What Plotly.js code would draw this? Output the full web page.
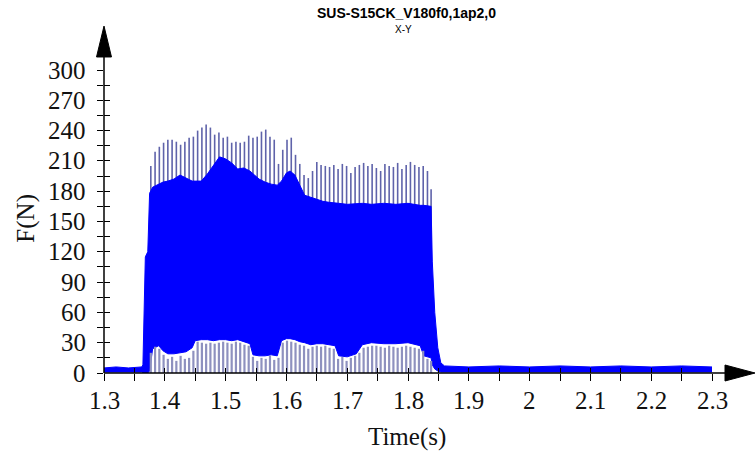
<!DOCTYPE html>
<html><head><meta charset="utf-8">
<script src="https://cdn.plot.ly/plotly-3.0.1.min.js"></script>
<style>html,body{margin:0;padding:0;background:#fff}#chart{width:755px;height:454px}</style>
</head><body><div id="chart"></div>
<script>
// Envelope of the dense force signal (time in s, force in N)
const envT     = [1.300,1.320,1.340,1.362,1.364,1.366,1.368,1.372,1.375,1.380,1.390,1.397,1.405,1.415,1.425,1.435,1.445,1.450,1.460,1.470,1.480,1.490,1.500,1.510,1.520,1.530,1.540,1.545,1.555,1.565,1.575,1.585,1.592,1.600,1.606,1.614,1.622,1.630,1.640,1.650,1.660,1.670,1.680,1.686,1.700,1.715,1.725,1.740,1.760,1.780,1.800,1.820,1.826,1.838,1.840,1.844,1.849,1.854,1.860,1.900,1.950,2.000,2.050,2.100,2.150,2.200,2.250,2.300];
const envUpper = [5,6,5,6,8,60,115,120,178,184,187,189,190,192,196,193,190,190,190,197,205,214,212,208,202,203,200,197,192,189,187,186,190,198,200,196,186,176,174,172,170,169,168,168,167,168,168,167,168,167,168,166,166,165,110,60,25,10,7,6,7,6,7,6,7,6,7,6];
const envLower = [1,1,1,1,0,0,0,0,2,24,27,22,19,19,20,21,25,32,33,33,32,33,33,32,33,31,29,18,17,17,18,17,32,34,34,33,31,30,28,29,29,28,27,17,16,19,28,30,29,29,30,27,17,15,8,4,2,1,1,1,1,1,1,1,1,1,1,1];

// Periodic peaks above the body and troughs below it
const spikeT = [1.377,1.384,1.391,1.398,1.405,1.412,1.419,1.426,1.433,1.440,
                1.447,1.454,1.461,1.468,1.475,1.482,1.489,1.496,1.503,1.510,
                1.517,1.524,1.531,1.538,1.545,1.552,1.559,1.566,1.573,1.580,
                1.587,1.594,1.601,1.608,1.615,1.622,1.629,1.636,1.643,1.650,
                1.657,1.664,1.671,1.678,1.685,1.692,1.699,1.706,1.713,1.720,
                1.727,1.734,1.741,1.748,1.755,1.762,1.769,1.776,1.783,1.790,
                1.797,1.804,1.811,1.818,1.825,1.832,1.838];
const spikeTop = [205,219,224,228,231,231,229,226,229,233,
                  234,240,243,246,243,236,238,233,234,228,
                  229,228,229,235,233,234,239,241,234,231,
                  207,221,231,233,216,207,196,193,200,209,
                  206,205,204,206,202,207,205,198,204,206,
                  208,205,207,203,200,207,205,204,208,202,
                  206,209,206,204,205,200,182];
const troughTop = [20,26,24,18,14,16,12,17,14,15,
                   22,31,30,29,30,29,30,31,30,29,
                   31,30,28,27,16,12,15,14,17,13,
                   15,30,32,31,30,28,27,24,26,27,
                   26,27,25,24,14,16,12,15,17,20,
                   25,26,27,27,26,25,27,26,25,26,
                   27,26,25,24,22,14,12];

const xTickVals = [1.3,1.4,1.5,1.6,1.7,1.8,1.9,2.0,2.1,2.2,2.3];
const xTickText = ['1.3','1.4','1.5','1.6','1.7','1.8','1.9','2','2.1','2.2','2.3'];
const yTickVals = [0,30,60,90,120,150,180,210,240,270,300];
const yTickText = ['0','30','60','90','120','150','180','210','240','270','300'];

// Build vertical segment traces from the peak / trough arrays
const spX = [], spY = [], trX = [], trY = [];
spikeT.forEach((t, i) => {
  spX.push(t, t, null); spY.push(120, spikeTop[i], null);
  trX.push(t, t, null); trY.push(0, troughTop[i], null);
});

const BLUE = '#0000ff';
const SERIF = 'Liberation Serif';
const SANS = 'Liberation Sans';

const traces = [
  {x: spX, y: spY, mode: 'lines', line: {color: '#5f63aa', width: 1.6}, hoverinfo: 'skip', showlegend: false},
  {x: envT, y: envLower, mode: 'lines', line: {color: BLUE, width: 1}, hoverinfo: 'skip', showlegend: false},
  {x: envT, y: envUpper, mode: 'lines', fill: 'tonexty', fillcolor: BLUE, line: {color: BLUE, width: 1}, hoverinfo: 'skip', showlegend: false},
  {x: trX, y: trY, mode: 'lines', line: {color: '#8e91bf', width: 2.2}, hoverinfo: 'skip', showlegend: false},
  {x: [2.3], y: [0], xaxis: 'x2', yaxis: 'y2', mode: 'markers', marker: {opacity: 0}, hoverinfo: 'skip', showlegend: false}
];

function minorTicks(t0, dt, where, len) {
  return {tickmode: 'linear', tick0: t0, dtick: dt, ticks: where, ticklen: len, tickwidth: 1, tickcolor: '#000', showgrid: false};
}

const layout = {
  width: 755, height: 454,
  margin: {l: 104, r: 43, t: 70, b: 81, pad: 0},
  paper_bgcolor: '#fff', plot_bgcolor: '#fff',
  showlegend: false,
  font: {family: SERIF, size: 25, color: '#111'},
  xaxis: {
    range: [1.3, 2.3], type: 'linear', fixedrange: true,
    showgrid: false, zeroline: false, showline: false, showticklabels: false,
    tickmode: 'array', tickvals: xTickVals,
    ticks: 'outside', ticklen: 7, tickwidth: 1, tickcolor: '#000',
    minor: minorTicks(1.3, 0.05, 'outside', 7)
  },
  yaxis: {
    range: [0, 300], type: 'linear', fixedrange: true,
    showgrid: false, zeroline: false, showline: false, showticklabels: false,
    tickmode: 'array', tickvals: yTickVals,
    ticks: 'outside', ticklen: 6, tickwidth: 1, tickcolor: '#000',
    minor: minorTicks(0, 15, 'outside', 6)
  },
  xaxis2: {
    overlaying: 'x', anchor: 'y2', side: 'bottom', range: [1.3, 2.3], type: 'linear', fixedrange: true,
    showgrid: false, zeroline: false, showline: false, showticklabels: false,
    tickmode: 'array', tickvals: xTickVals,
    ticks: 'inside', ticklen: 5, tickwidth: 1, tickcolor: '#000',
    minor: minorTicks(1.3, 0.05, 'inside', 5)
  },
  yaxis2: {
    overlaying: 'y', anchor: 'x2', side: 'left', range: [0, 300], type: 'linear', fixedrange: true,
    showgrid: false, zeroline: false, showline: false, showticklabels: false,
    tickmode: 'array', tickvals: yTickVals,
    ticks: 'inside', ticklen: 6, tickwidth: 1, tickcolor: '#000',
    minor: minorTicks(0, 15, 'inside', 6)
  },
  shapes: [
    {type: 'line', xref: 'paper', yref: 'paper', x0: 0, x1: 0, y0: 0, y1: 1.05, line: {color: '#000', width: 1.5}, layer: 'above'},
    {type: 'path', xref: 'paper', yref: 'paper', path: 'M -0.0123 1.043 L 0.0123 1.043 L 0 1.145 Z', fillcolor: '#000', line: {color: '#000', width: 1}, layer: 'above'},
    {type: 'line', xref: 'paper', yref: 'paper', x0: 0, x1: 1.03, y0: 0, y1: 0, line: {color: '#000', width: 1.5}, layer: 'above'},
    {type: 'path', xref: 'paper', yref: 'paper', path: 'M 1.0214 0.0264 L 1.0214 -0.0264 L 1.0707 0 Z', fillcolor: '#000', line: {color: '#000', width: 1}, layer: 'above'}
  ],
  annotations: [
    {text: '<b>SUS-S15CK_V180f0,1ap2,0</b>', xref: 'paper', yref: 'paper', x: 0.497, y: 1.187, xanchor: 'center', yanchor: 'middle', showarrow: false,
     font: {family: SANS, size: 14, color: '#000'}},
    {text: 'X-Y', xref: 'paper', yref: 'paper', x: 0.493, y: 1.133, xanchor: 'center', yanchor: 'middle', showarrow: false,
     font: {family: SANS, size: 10, color: '#000'}},
    {text: 'F(N)', xref: 'paper', yref: 'paper', x: -0.128, y: 0.51, xanchor: 'center', yanchor: 'middle', textangle: -90, showarrow: false,
     font: {family: SERIF, size: 25, color: '#111'}},
    {text: 'Time(s)', xref: 'paper', yref: 'paper', x: 0.498, y: -0.211, xanchor: 'center', yanchor: 'middle', showarrow: false,
     font: {family: SERIF, size: 25, color: '#111'}}
  ]
};

// Tick labels as serif text placed on the axes' own scales
xTickVals.forEach((v, i) => layout.annotations.push({
  text: xTickText[i], xref: 'x', yref: 'paper', x: v, y: -0.091, xanchor: 'center', yanchor: 'middle',
  showarrow: false, font: {family: SERIF, size: 25, color: '#111'}
}));
yTickVals.forEach((v, i) => layout.annotations.push({
  text: yTickText[i], xref: 'paper', yref: 'y', x: -0.026, y: v, xanchor: 'right', yanchor: 'middle',
  showarrow: false, font: {family: SERIF, size: 25, color: '#111'}
}));

Plotly.newPlot('chart', traces, layout, {displayModeBar: false, staticPlot: true});
</script>
</body></html>
